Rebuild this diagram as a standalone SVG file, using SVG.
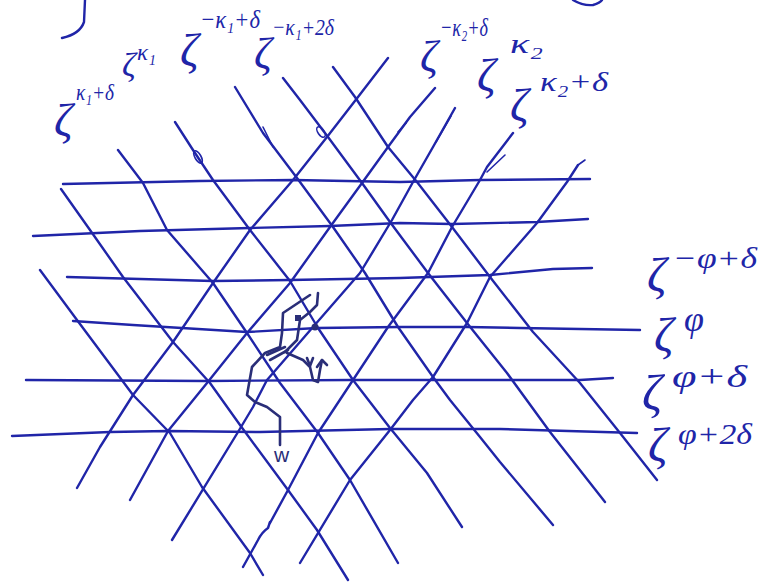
<svg xmlns="http://www.w3.org/2000/svg" width="779" height="585" viewBox="0 0 779 585">
<style>
.g{fill:none;stroke:#2025a8;stroke-width:2.4;stroke-linecap:round;stroke-linejoin:round}
.t{fill:none;stroke:#2025a8;stroke-width:1.6;stroke-linecap:round;stroke-linejoin:round}
.w{fill:none;stroke:#2a2e78;stroke-width:2.6;stroke-linecap:round;stroke-linejoin:round}
.z{font-family:"Liberation Serif","DejaVu Serif",serif;font-style:italic;fill:#2025a8}
.s{font-family:"Liberation Serif","DejaVu Serif",serif;font-style:italic;fill:#2025a8}
</style>
<rect width="779" height="585" fill="#ffffff"/>
<g id="fragments">
<path class="g" d="M85,0 L84,22 Q80,34 62,38"/>
<path class="g" d="M573,0 Q583,6 593,5 Q600,3 602,0"/>
</g>
<g id="connectors">
<g id="horizontal">
<polyline class="g" points="63,184 200,181 293,180 400,182 480,180 590,179"/>
<polyline class="g" points="33,236 140,231 250,228 330,226 400,223 452,224 537,222 588,219"/>
<polyline class="g" points="67,277 213,281 290,280 400,278 490,275 553,269 592,268"/>
<polyline class="g" points="73,321 133,325 247,332 317,328 400,327 467,327 520,328 640,330"/>
<polyline class="g" points="26,380 207,381 350,380 435,380 580,380 613,378"/>
<polyline class="g" points="12,436 110,432 168,431 260,432 390,429 500,429 637,433"/>
</g>
<g id="descending">
<polyline class="g" points="40,270 77,320 133,395 170,433 202,487 250,553 263,575"/>
<polyline class="g" points="61,189 90,230 123,277 173,342 210,383 240,425 288,490 317,530 348,580"/>
<polyline class="g" points="118,150 143,183 167,230 213,283 247,333 280,383 318,433 350,480 398,563"/>
<polyline class="g" points="175,122 193,150 213,180 250,230 290,281 318,328 353,380 390,428 427,473 462,527"/>
<polyline class="g" points="235,87 263,133 297,178 333,227 365,273 398,327 433,377 450,400 480,437 500,462 553,525"/>
<polyline class="g" points="283,78 300,100 328,137 362,183 390,222 428,273 467,323 507,373 550,432 605,502"/>
<polyline class="g" points="333,67 355,97 388,147 417,182 452,227 490,277 533,332 580,383 620,433 657,480"/>
</g>
<g id="ascending">
<polyline class="g" points="388,58 358,97 327,137 293,180 250,230 213,283 173,342 133,395 100,447 77,488"/>
<polyline class="g" points="435,88 410,117 388,147 362,183 330,227 290,283 247,333 207,383 168,431 130,500"/>
<polyline class="g" points="455,108 433,147 413,182 392,220 360,273 313,327 267,380 253,407 238,432 172,540"/>
<polyline class="g" points="513,133 487,167 480,180 452,227 428,273 388,327 353,380 318,433 288,490 270,523"/>
<path class="g" d="M270,522 L268,528 Q262,532 258,540 L243,567"/>
<polyline class="g" points="578,165 567,182 537,223 490,277 467,323 433,377 413,400 390,430 350,480 300,563"/>
</g>
<g id="retraces">
<ellipse class="t" cx="198" cy="157" rx="3" ry="7" transform="rotate(-30 198 157)"/>
<path class="t" d="M263,127 L273,147"/>
<ellipse class="t" cx="321" cy="132" rx="3" ry="6" transform="rotate(-35 321 132)"/>
<path class="t" d="M451,116 L436,142"/>
<path class="t" d="M505,155 L487,172"/>
<path class="t" d="M406,123 L398,132"/>
<path class="t" d="M578,165 L585,160"/>
</g>
</g>
<g id="walk">
<polyline class="w" points="280,445 280,417 267,407 255,402 247,395 252,367 265,353 280,347 282,333 283,313 298,303 310,295"/>
<polyline class="w" points="285,352 297,340 300,320 310,312 317,305 318,293"/>
<polyline class="w" points="287,353 303,360 310,367 313,380 318,382 320,370 322,360"/>
<polyline class="w" points="317,367 322,360 327,365"/>
<polyline class="w" points="307,358 310,366 313,358"/>
<path class="w" d="M267,355 L285,347 M270,360 L288,350"/>
<rect x="295" y="315" width="6" height="6" fill="#2a2e78"/>
<circle cx="315" cy="327" r="3.5" fill="#2a2e78"/>
<text x="274" y="462" font-family="Liberation Sans,Arial,sans-serif" font-size="21" fill="#2a2e78">w</text>
</g>
<g id="label-k1d">
<text class="z" x="54" y="136" font-size="46">ζ</text>
<text class="s" x="76" y="100" font-size="24" textLength="38" lengthAdjust="spacingAndGlyphs">κ₁+δ</text>
</g>
<g id="label-k1">
<text class="z" x="122" y="76" font-size="34">ζ</text>
<text class="s" x="137" y="60" font-size="24" textLength="19" lengthAdjust="spacingAndGlyphs">κ₁</text>
</g>
<g id="label-mk1d">
<text class="z" x="180" y="66" font-size="46">ζ</text>
<text class="s" x="200" y="28" font-size="26" textLength="60" lengthAdjust="spacingAndGlyphs">−κ₁+δ</text>
</g>
<g id="label-mk12d">
<text class="z" x="254" y="68" font-size="44">ζ</text>
<text class="s" x="272" y="35" font-size="24" textLength="62" lengthAdjust="spacingAndGlyphs">−κ₁+2δ</text>
</g>
<g id="label-mk2d">
<text class="z" x="420" y="71" font-size="44">ζ</text>
<text class="s" x="440" y="36" font-size="26" textLength="48" lengthAdjust="spacingAndGlyphs">−κ₂+δ</text>
</g>
<g id="label-k2">
<text class="z" x="477" y="91" font-size="46">ζ</text>
<text class="s" x="510" y="53" font-size="28" textLength="33" lengthAdjust="spacingAndGlyphs">κ₂</text>
</g>
<g id="label-k2d">
<text class="z" x="510" y="121" font-size="46">ζ</text>
<text class="s" x="540" y="91" font-size="28" textLength="68" lengthAdjust="spacingAndGlyphs">κ₂+δ</text>
</g>
<g id="label-mphid">
<text class="z" x="647" y="291" font-size="48">ζ</text>
<text class="s" x="673" y="268" font-size="30" textLength="84" lengthAdjust="spacingAndGlyphs">−φ+δ</text>
</g>
<g id="label-phi">
<text class="z" x="654" y="351" font-size="48">ζ</text>
<text class="s" x="684" y="331" font-size="36">φ</text>
</g>
<g id="label-phid">
<text class="z" x="642" y="410" font-size="50">ζ</text>
<text class="s" x="672" y="387" font-size="32" textLength="75" lengthAdjust="spacingAndGlyphs">φ+δ</text>
</g>
<g id="label-phi2d">
<text class="z" x="648" y="461" font-size="48">ζ</text>
<text class="s" x="678" y="444" font-size="30" textLength="74" lengthAdjust="spacingAndGlyphs">φ+2δ</text>
</g>
</svg>
